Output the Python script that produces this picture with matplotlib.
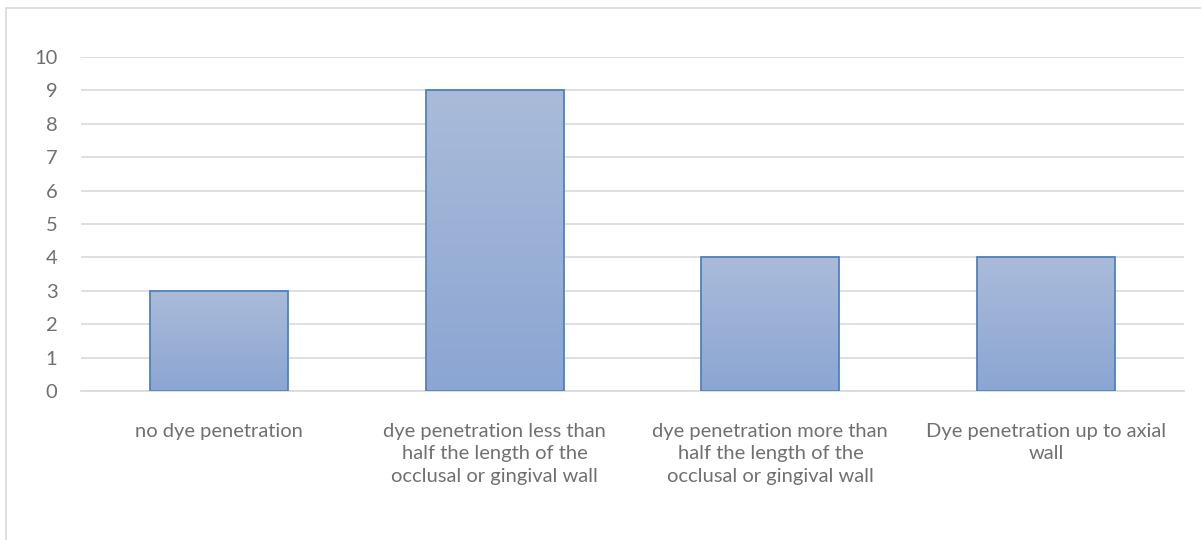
import numpy as np
import matplotlib.pyplot as plt
from matplotlib.patches import Rectangle
from matplotlib.colors import LinearSegmentedColormap

categories = [
    "no dye penetration",
    "dye penetration less than\nhalf the length of the\nocclusal or gingival wall",
    "dye penetration more than\nhalf the length of the\nocclusal or gingival wall",
    "Dye penetration up to axial\nwall",
]
counts = [3, 9, 4, 4]
y_ticks = list(range(0, 11))

plt.rcParams['font.family'] = ['Lato', 'DejaVu Sans']

fig = plt.figure(figsize=(12.01, 5.4), dpi=100)
W, H = 1201, 540
ax = fig.add_axes([81 / W, (540 - 391) / H, (1184 - 81) / W, (391 - 57) / H])

# chart frame (top and left edges show, rest runs off the canvas)
fig.patches.append(Rectangle((6 / W, -0.1), 1.2, (540 - 8) / H + 0.1,
                             transform=fig.transFigure, fill=False,
                             edgecolor='#D9D9D9', lw=1.2))

x = np.arange(len(categories))
bars = ax.bar(x, counts, width=0.5, color='none', edgecolor='#4F81BD',
              linewidth=1.3, zorder=3)

grad = LinearSegmentedColormap.from_list('g', ['#8BA6D3', '#AABBD9'])
for b in bars:
    x0, y0 = b.get_x(), b.get_y()
    img = ax.imshow(np.linspace(0, 1, 256).reshape(-1, 1), cmap=grad,
                    origin='lower', aspect='auto',
                    extent=(x0, x0 + b.get_width(), y0, y0 + b.get_height()),
                    zorder=2)
    img.set_clip_path(b)

ax.set_xlim(-0.5, len(categories) - 0.5)
ax.set_ylim(0, 10)
ax.set_yticks(y_ticks)
ax.set_xticks(x)
ax.set_xticklabels(categories, linespacing=1.38)
ax.tick_params(axis='both', length=0, colors='#707070', labelsize=14.5)
ax.tick_params(axis='y', pad=17)
ax.tick_params(axis='x', pad=23)

ax.grid(axis='y', color='#D9D9D9', lw=1.2, zorder=0)
for s in ['top', 'right', 'left']:
    ax.spines[s].set_visible(False)
ax.spines['bottom'].set_color('#D9D9D9')
ax.spines['bottom'].set_linewidth(1.2)

fig.savefig('out.png', dpi=100)
